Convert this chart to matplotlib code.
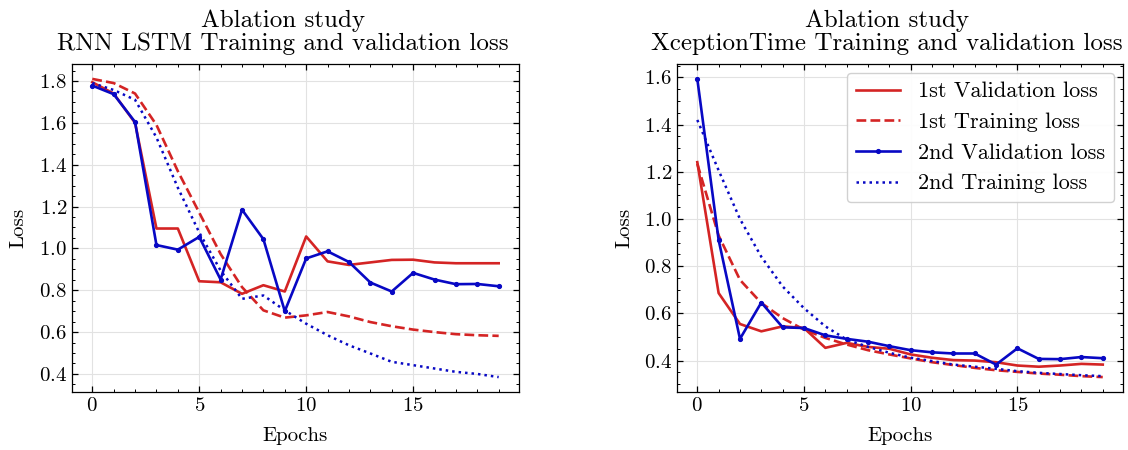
import matplotlib
matplotlib.use("Agg")
import matplotlib.pyplot as plt
from matplotlib.ticker import MultipleLocator

# ---------------------------------------------------------------------
# data (20 epochs each)
# ---------------------------------------------------------------------
epochs = list(range(20))

# RNN LSTM
lstm_val_1 = [1.794, 1.74, 1.60, 1.095, 1.095, 0.843, 0.838, 0.783, 0.824, 0.794,
              1.057, 0.938, 0.921, 0.933, 0.945, 0.946, 0.933, 0.929, 0.929, 0.929]
lstm_train_1 = [1.81, 1.79, 1.74, 1.59, 1.369, 1.171, 0.973, 0.815, 0.704, 0.669,
                0.68, 0.696, 0.675, 0.648, 0.628, 0.612, 0.60, 0.59, 0.585, 0.582]
lstm_val_2 = [1.778, 1.737, 1.604, 1.016, 0.994, 1.055, 0.851, 1.185, 1.044, 0.70,
              0.952, 0.986, 0.935, 0.837, 0.794, 0.883, 0.851, 0.829, 0.830, 0.819]
lstm_train_2 = [1.79, 1.757, 1.71, 1.53, 1.29, 1.076, 0.894, 0.759, 0.775, 0.704,
                0.64, 0.585, 0.537, 0.498, 0.458, 0.442, 0.426, 0.41, 0.40, 0.385]

# XceptionTime
xcep_val_1 = [1.241, 0.686, 0.555, 0.524, 0.545, 0.538, 0.454, 0.475, 0.458, 0.45,
              0.426, 0.412, 0.402, 0.40, 0.393, 0.379, 0.374, 0.379, 0.386, 0.383]
xcep_train_1 = [1.234, 0.93, 0.742, 0.644, 0.58, 0.531, 0.496, 0.468, 0.444, 0.426,
                0.409, 0.393, 0.381, 0.369, 0.359, 0.352, 0.345, 0.34, 0.334, 0.33]
xcep_val_2 = [1.594, 0.911, 0.492, 0.646, 0.541, 0.538, 0.507, 0.492, 0.48, 0.461,
              0.444, 0.435, 0.43, 0.43, 0.383, 0.452, 0.407, 0.406, 0.415, 0.41]
xcep_train_2 = [1.42, 1.206, 1.0, 0.84, 0.714, 0.622, 0.545, 0.489, 0.458, 0.433,
                0.412, 0.398, 0.383, 0.374, 0.365, 0.355, 0.348, 0.343, 0.338, 0.334]

labels = ["1st Validation loss", "1st Training loss",
          "2nd Validation loss", "2nd Training loss"]
titles = ["Ablation study\nRNN LSTM Training and validation loss",
          "Ablation study\nXceptionTime Training and validation loss"]

RED = "#d42424"
BLUE = "#0808c4"

plt.rcParams.update({
    "font.family": "serif",
    "font.serif": ["cmr10", "DejaVu Serif"],
    "mathtext.fontset": "cm",
    "axes.formatter.use_mathtext": True,
    "axes.unicode_minus": False,
    "font.size": 15,
    "axes.linewidth": 0.9,
    "xtick.direction": "in",
    "ytick.direction": "in",
    "xtick.top": True,
    "ytick.right": True,
    "xtick.major.size": 4,
    "ytick.major.size": 4,
    "xtick.minor.size": 2,
    "ytick.minor.size": 2,
    "xtick.major.width": 0.9,
    "ytick.major.width": 0.9,
    "xtick.minor.width": 0.7,
    "ytick.minor.width": 0.7,
})


def draw(ax, val1, train1, val2, train2, title):
    ax.plot(epochs, val1, color=RED, lw=1.9, ls="-", label=labels[0])
    ax.plot(epochs, train1, color=RED, lw=1.9, ls="--", label=labels[1])
    ax.plot(epochs, val2, color=BLUE, lw=1.9, ls="-", marker=".",
            markersize=5.5, label=labels[2])
    ax.plot(epochs, train2, color=BLUE, lw=1.8, ls=(0, (1, 1.6)), label=labels[3])
    # the titles sit a little left of the axes centre in the reference
    ax.set_title(title, fontsize=18, linespacing=1.05, pad=10, x=0.471)
    ax.set_xlabel("Epochs", fontsize=15, labelpad=9)
    ax.set_ylabel("Loss", fontsize=15, labelpad=8)
    ax.xaxis.set_major_locator(MultipleLocator(5))
    ax.xaxis.set_minor_locator(MultipleLocator(1))
    ax.yaxis.set_major_locator(MultipleLocator(0.2))
    ax.yaxis.set_minor_locator(MultipleLocator(0.05))
    ax.grid(True, which="major", color="#e2e2e2", lw=0.8)
    ax.set_axisbelow(True)
    ax.tick_params(labelsize=15)


fig = plt.figure(figsize=(11.28, 4.5), dpi=100)
ax1 = fig.add_axes([0.0638, 0.1289, 0.3963, 0.7289])
ax2 = fig.add_axes([0.6002, 0.1289, 0.3954, 0.7289])

draw(ax1, lstm_val_1, lstm_train_1, lstm_val_2, lstm_train_2, titles[0])
draw(ax2, xcep_val_1, xcep_train_1, xcep_val_2, xcep_train_2, titles[1])
ax2.legend(loc="upper right", fontsize=16, frameon=True, fancybox=True,
           edgecolor="#cccccc", framealpha=0.9, borderaxespad=0.4,
           labelspacing=0.5)

fig.savefig("out.png", dpi=100)
